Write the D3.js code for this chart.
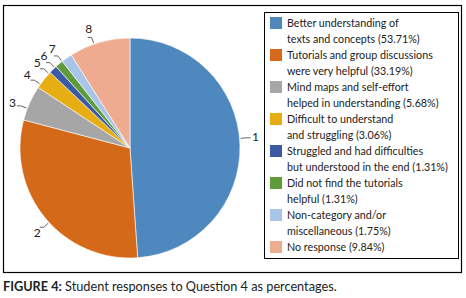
<!DOCTYPE html>
<html>
<head>
<meta charset="utf-8">
<script src="https://cdn.jsdelivr.net/npm/d3@7"></script>
<style>
  body { margin: 0; background: #fff; }
  svg { display: block; font-family: Lato, "Open Sans", sans-serif; }
</style>
</head>
<body>
<div id="chart"></div>
<script>
// slice numbers, legend text lines and values
const sliceIds = ["1", "2", "3", "4", "5", "6", "7", "8"];
const values = [53.71, 33.19, 5.68, 3.06, 1.31, 1.31, 1.75, 9.84];
const legendLines = [
    ["Better understanding of", "texts and concepts (53.71%)"],
    ["Tutorials and group discussions", "were very helpful (33.19%)"],
    ["Mind maps and self-effort", "helped in understanding (5.68%)"],
    ["Difficult to understand", "and struggling (3.06%)"],
    ["Struggled and had difficulties", "but understood in the end (1.31%)"],
    ["Did not find the tutorials", "helpful (1.31%)"],
    ["Non-category and/or", "miscellaneous (1.75%)"],
    ["No response (9.84%)"]
];
const colors = ["#4f88bf", "#d4691a", "#a6a6a6", "#e6ae12", "#3b5aa3", "#5e9b3a", "#a8c4e8", "#efab90"];
const captionBold = "FIGURE 4:";
const captionText = " Student responses to Question 4 as percentages.";

const width = 466, height = 298;
const svg = d3.select("#chart").append("svg")
    .attr("width", width)
    .attr("height", height);

// outer frame
svg.append("rect")
    .attr("x", 3.5).attr("y", 5.5)
    .attr("width", 458).attr("height", 267)
    .attr("fill", "none")
    .attr("stroke", "#000")
    .attr("stroke-width", 1.2);

// pie
let cx = 130, cy = 148, radius = 110;
let data = values.map((v, i) => ({id: sliceIds[i], value: v, color: colors[i]}));

let pie = d3.pie().sort(null).value(d => d.value);
let arcs = pie(data);
let arc = d3.arc().innerRadius(0).outerRadius(radius);

let g = svg.append("g").attr("transform", "translate(" + cx + "," + cy + ")");

g.selectAll("path.slice").data(arcs).enter().append("path")
    .attr("class", "slice")
    .attr("d", arc)
    .attr("fill", d => d.data.color)
    .attr("stroke", "#fff")
    .attr("stroke-width", 0.6);

// leader lines + labels
const toRad = Math.PI / 180;
function polar(a, r) { return [Math.sin(a) * r, -Math.cos(a) * r]; }

let labels = g.selectAll("g.lbl").data(arcs).enter().append("g").attr("class", "lbl");

labels.append("path")
    .attr("fill", "none")
    .attr("stroke", "#404040")
    .attr("stroke-width", 0.8)
    .attr("d", d => {
        let a = (d.startAngle + d.endAngle) / 2 - 3 * toRad;
        let p0 = polar(a, radius + 1);
        let p1 = polar(a, radius + 7);
        let side = Math.sin(a) >= 0 ? 1 : -1;
        return "M" + p0 + "L" + p1 + "l" + (side * 4) + ",0";
    });

labels.append("text")
    .attr("x", d => polar((d.startAngle + d.endAngle) / 2 - 3 * toRad, radius + 16)[0])
    .attr("y", d => polar((d.startAngle + d.endAngle) / 2 - 3 * toRad, radius + 16)[1])
    .attr("dy", "0.35em")
    .attr("text-anchor", "middle")
    .attr("font-size", 12)
    .attr("fill", "#222")
    .text(d => d.data.id);

// legend
let legend = svg.append("g");
legend.append("rect")
    .attr("x", 264.5).attr("y", 12.5)
    .attr("width", 194).attr("height", 246)
    .attr("fill", "none")
    .attr("stroke", "#000")
    .attr("stroke-width", 1);

let itemY = d3.scaleLinear().domain([0, 1]).range([23, 55]);
let lineH = 16;

let items = legend.selectAll("g.item").data(data).enter().append("g")
    .attr("class", "item")
    .attr("transform", (d, i) => "translate(0," + itemY(i) + ")");

items.append("rect")
    .attr("x", 270).attr("y", -6)
    .attr("width", 12).attr("height", 12)
    .attr("fill", d => d.color);

let legendText = items.append("text")
    .attr("x", 287)
    .attr("y", 0)
    .attr("font-size", 11)
    .attr("fill", "#222");

legendText.selectAll("tspan").data((d, i) => legendLines[i]).enter().append("tspan")
    .attr("x", 287)
    .attr("dy", (d, j) => j === 0 ? "0.35em" : lineH)
    .text(d => d);

// fit font so the longest line spans like the reference (~161px)
let longest = legendText.selectAll("tspan").filter(t => t === "but understood in the end (1.31%)").node();
let w = longest.getComputedTextLength();
let fs = 11 * 161 / w;
legendText.attr("font-size", fs);

// caption
let cap = svg.append("text")
    .attr("x", 3)
    .attr("y", 291)
    .attr("font-size", 13)
    .attr("fill", "#222");
cap.append("tspan").attr("font-weight", "bold").text(captionBold);
cap.append("tspan").text(captionText);
let cw = cap.node().getComputedTextLength();
cap.attr("font-size", 13 * 334 / cw);
</script>
</body>
</html>
